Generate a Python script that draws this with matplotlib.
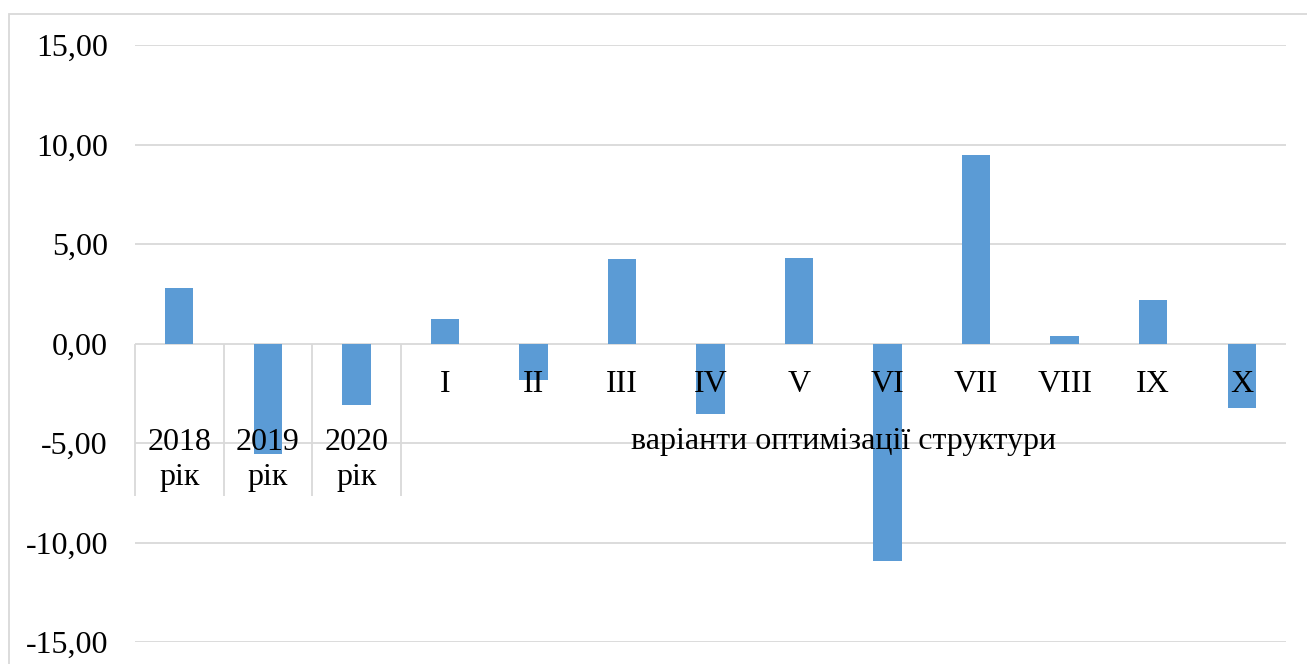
import matplotlib.pyplot as plt
from matplotlib.patches import Rectangle

years = ['2018', '2019', '2020']
variants = ['I', 'II', 'III', 'IV', 'V', 'VI', 'VII', 'VIII', 'IX', 'X']
year_values = [2.81, -5.53, -3.07]
variant_values = [1.21, -1.81, 4.27, -3.52, 4.32, -10.95, 9.45, 0.40, 2.21, -3.22]
group_label = 'варіанти оптимізації структури'
year_suffix = 'рік'
y_ticks = [-15, -10, -5, 0, 5, 10, 15]

plt.rcParams['font.family'] = ['Liberation Serif', 'DejaVu Serif']
FS = 23
GRID = '#D9D9D9'
BAR = '#5B9BD5'

W, H = 1307, 664
fig = plt.figure(figsize=(W / 100, H / 100), dpi=100)
ax = fig.add_axes([135 / W, 1 - 642 / H, (1286 - 135) / W, (642 - 45) / H])

values = year_values + variant_values
xs = list(range(len(values)))
ax.bar(xs, values, width=0.32, color=BAR, zorder=2)

ax.set_xlim(-0.5, len(values) - 0.5)
ax.set_ylim(-15, 15)
ax.set_yticks(y_ticks)
ax.set_yticklabels([f'{v:.2f}'.replace('.', ',') for v in y_ticks], fontsize=FS)
ax.tick_params(axis='y', length=0, pad=19.5)
ax.set_xticks([])
ax.grid(axis='y', color=GRID, linewidth=1.3)
ax.set_axisbelow(True)
for s in ax.spines.values():
    s.set_visible(False)

# category labels at the zero line
for i, name in enumerate(years):
    ax.annotate(name, (i, 0), xytext=(0, -107), textcoords='offset pixels',
                ha='center', va='baseline', fontsize=FS, zorder=3)
    ax.annotate(year_suffix, (i, 0), xytext=(0, -142), textcoords='offset pixels',
                ha='center', va='baseline', fontsize=FS, zorder=3)
for j, name in enumerate(variants):
    ax.annotate(name, (len(years) + j, 0), xytext=(0, -49), textcoords='offset pixels',
                ha='center', va='baseline', fontsize=FS, zorder=3)
ax.annotate(group_label, ((len(years) + len(values) - 1) / 2, 0), xytext=(0, -105),
            textcoords='offset pixels', ha='center', va='baseline', fontsize=FS, zorder=3)

# separators of the two-level category axis
sep_x = [-0.5 + k for k in range(len(years) + 1)]
ax.vlines(sep_x, -152 / 19.9, 0, color=GRID, linewidth=1.3, clip_on=False, zorder=1)

# chart border
fig.add_artist(Rectangle((9 / W, -0.1), 1.0, 1 - 14 / H + 0.1, transform=fig.transFigure,
                         fill=False, edgecolor=GRID, linewidth=1.3))

fig.savefig('out.png', dpi=100)
